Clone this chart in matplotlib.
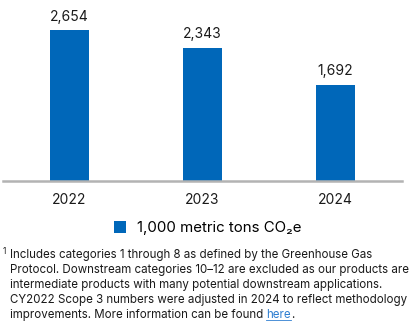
import matplotlib
matplotlib.use("Agg")
import matplotlib.pyplot as plt
from matplotlib.patches import Patch
from matplotlib.lines import Line2D

plt.rcParams['font.family'] = ['Inter', 'DejaVu Sans']

years = ['2022', '2023', '2024']
emissions = [2654, 2343, 1692]
legend_label = '1,000 metric tons CO₂e'
footnote_lines = [
    'Includes categories 1 through 8 as defined by the Greenhouse Gas',
    'Protocol. Downstream categories 10–12 are excluded as our products are',
    'intermediate products with many potential downstream applications.',
    'CY2022 Scope 3 numbers were adjusted in 2024 to reflect methodology',
    'improvements. More information can be found ',
]
link_text = 'here'

W, H = 414, 332
bar_color = '#0067B9'
fs_note = 8.3

fig = plt.figure(figsize=(W / 100, H / 100), dpi=100)
ax = fig.add_axes([3 / W, 151 / H, 399 / W, 181 / H])

x = range(len(years))
ax.bar(x, emissions, width=0.295, color=bar_color)
for i, v in enumerate(emissions):
    ax.text(i, v + 110, f'{v:,}', ha='center', va='bottom', fontsize=10, color='#1a1a1a')

ax.set_xlim(-0.5, 2.5)
ax.set_ylim(0, 3181)
ax.set_xticks(list(x))
ax.set_xticklabels(years, fontsize=10, color='#1a1a1a')
ax.tick_params(axis='x', length=0, pad=9)
ax.set_yticks([])
for s in ['top', 'right', 'left']:
    ax.spines[s].set_visible(False)
ax.spines['bottom'].set_color('#b3b3b3')
ax.spines['bottom'].set_linewidth(1.8)

handle = Patch(facecolor=bar_color, edgecolor='none')
fig.legend([handle], [legend_label], loc='center', bbox_to_anchor=(208 / W, 1 - 228 / H),
           frameon=False, fontsize=10.8, handlelength=0.8, handleheight=0.8,
           handletextpad=0.75, borderpad=0)

fig.text(3 / W, 1 - 251 / H, '1', fontsize=6, ha='left', va='center', color='#1a1a1a')
ys = [255, 270, 285, 300, 315]
txt = None
for line, y in zip(footnote_lines, ys):
    txt = fig.text(10 / W, 1 - y / H, line, fontsize=fs_note, ha='left', va='center', color='#1a1a1a')

fig.canvas.draw()
r = fig.canvas.get_renderer()
bb = txt.get_window_extent(r)
lx = bb.x1 / W
link = fig.text(lx, 1 - ys[-1] / H, link_text, fontsize=fs_note, ha='left', va='center', color='#2f7fd1')
fig.canvas.draw()
lb = link.get_window_extent(r)
fig.add_artist(Line2D([lb.x0 / W, lb.x1 / W], [(lb.y0 + 1) / H] * 2, color='#2f7fd1', lw=0.6))
fig.text(lb.x1 / W, 1 - ys[-1] / H, '.', fontsize=fs_note, ha='left', va='center', color='#1a1a1a')

fig.savefig('out.png', dpi=100)
